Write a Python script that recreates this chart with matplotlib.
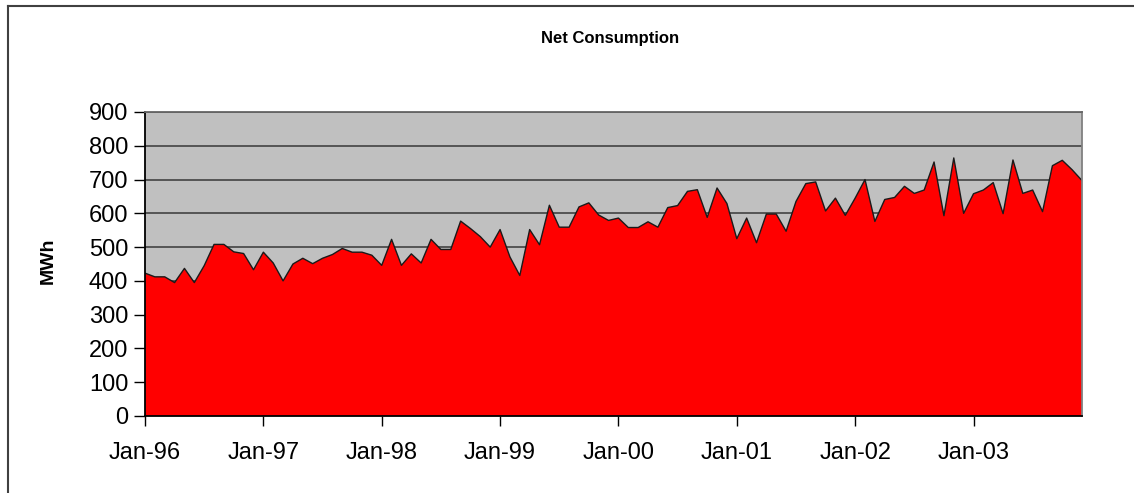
import matplotlib.pyplot as plt
import numpy as np
import pandas as pd
from matplotlib.lines import Line2D

plt.rcParams['font.family'] = ['Liberation Sans', 'DejaVu Sans']

# monthly net consumption, Jan-96 .. Dec-03 (MWh)
months = pd.date_range('1996-01-01', '2003-12-01', freq='MS')
consumption = [
    423, 412, 412, 395, 437, 395, 445, 508, 508, 486, 481, 433,   # 1996
    485, 453, 400, 450, 467, 451, 467, 478, 496, 485, 485, 476,   # 1997
    446, 523, 446, 480, 453, 523, 493, 493, 577, 555, 531, 500,   # 1998
    552, 471, 416, 552, 507, 624, 559, 559, 619, 631, 595, 579,   # 1999
    586, 558, 558, 575, 559, 617, 623, 665, 670, 588, 675, 629,   # 2000
    525, 586, 513, 598, 598, 547, 635, 688, 693, 607, 645, 594,   # 2001
    645, 700, 576, 641, 647, 680, 659, 669, 752, 593, 764, 600,   # 2002
    658, 669, 691, 599, 758, 659, 669, 605, 741, 757, 729, 697,   # 2003
]
tick_months = [0, 12, 24, 36, 48, 60, 72, 84]
tick_labels = ['Jan-96', 'Jan-97', 'Jan-98', 'Jan-99',
               'Jan-00', 'Jan-01', 'Jan-02', 'Jan-03']
y_ticks = np.arange(0, 901, 100)

W, H = 1134, 493
fig = plt.figure(figsize=(W / 100, H / 100), dpi=100)
ax = fig.add_axes([145 / W, 1 - 416 / H, (1082 - 145) / W, (416 - 112) / H])
ax.set_facecolor('#c0c0c0')

x = np.arange(len(months))
ax.fill_between(x, consumption, 0, facecolor='#ff0000', edgecolor='none', zorder=3)
ax.plot(x, consumption, color='#1a1a1a', lw=1.0, zorder=4)

ax.set_xlim(0, len(months) - 1)
ax.set_ylim(0, 900)
ax.set_yticks(y_ticks)
ax.set_xticks(tick_months)
ax.set_xticklabels(tick_labels)
ax.yaxis.grid(True, color='#555555', lw=1.4, zorder=1)
ax.set_axisbelow(True)
ax.tick_params(axis='y', direction='out', length=8, width=1, labelsize=17, pad=4)
ax.tick_params(axis='x', direction='out', length=7, width=1, labelsize=17, pad=12)

ax.spines['left'].set_color('black')
ax.spines['bottom'].set_color('black')
ax.spines['top'].set_color('#666666')
ax.spines['right'].set_color('#808080')
for s in ax.spines.values():
    s.set_linewidth(1.3)
    s.set_zorder(5)

ax.set_ylabel('MWh', fontsize=14, fontweight='bold')
ax.yaxis.set_label_coords((57 - 145) / 937, 0.51)
fig.text(610 / W, 1 - 38 / H, 'Net Consumption', ha='center', va='center',
         fontsize=12, fontweight='bold')

# chart frame, cut off at the right and bottom
fig.add_artist(Line2D([8 / W, 1.0], [1 - 6 / H, 1 - 6 / H], color='#404040', lw=1.5))
fig.add_artist(Line2D([8 / W, 8 / W], [1 - 6 / H, 0.0], color='#404040', lw=1.5))

fig.savefig('out.png', dpi=100)
